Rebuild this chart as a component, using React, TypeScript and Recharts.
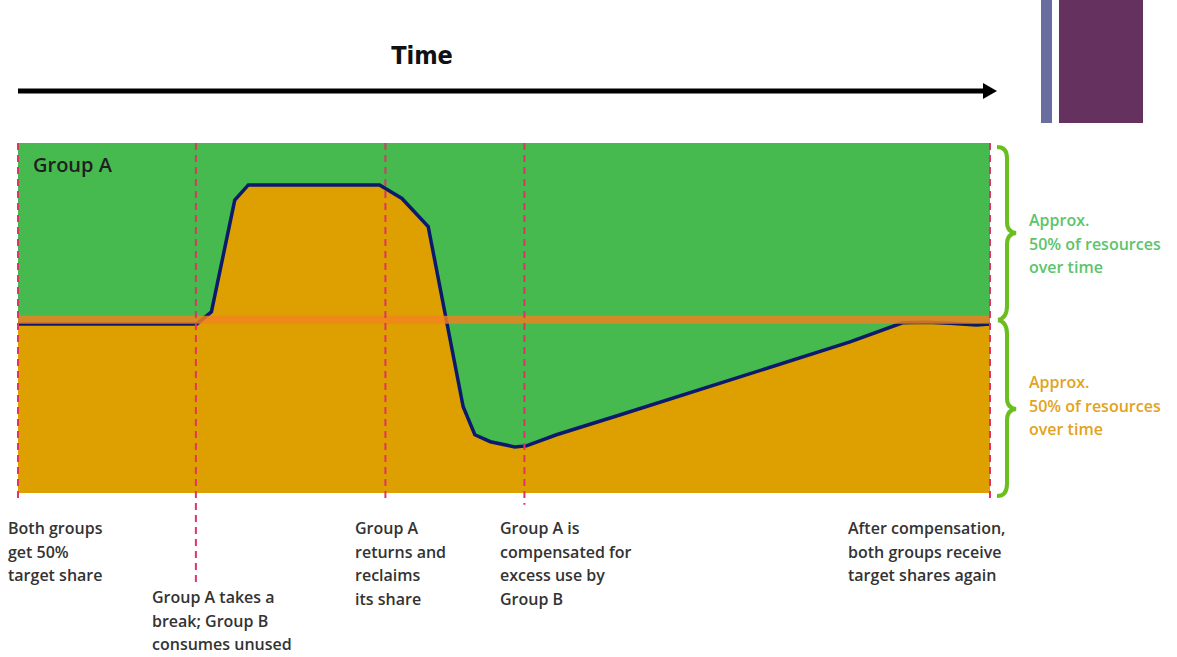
import { ComposedChart, Area, XAxis, YAxis, CartesianGrid, ReferenceLine, Customized } from 'recharts'

// time axis runs 0..100, share of resources held by Group B in %
const time = [0, 18.4, 19.9, 22.3, 23.7, 37.2, 39.5, 42.2, 45.8, 47.0, 48.6, 51.1, 52.3, 55.4, 61.9, 85.6, 91.0, 93.5, 95.9, 98.6, 100]
const groupBShare = [48.8, 48.8, 52.3, 84.5, 88.9, 88.9, 85.0, 76.9, 24.9, 16.8, 14.8, 13.3, 13.6, 16.8, 22.5, 43.6, 49.1, 49.3, 49.0, 48.5, 48.8]

const targetShare = 50
const eventTimes = [0, 18.3, 37.8, 52.1, 100]
const eventLineEnds = [-2.6, -26, -2.9, -3.4, -2]

const eventLabels = [
  ['Both groups', 'get 50%', 'target share'],
  ['Group A takes a', 'break; Group B', 'consumes unused'],
  ['Group A', 'returns and', 'reclaims', 'its share'],
  ['Group A is', 'compensated for', 'excess use by', 'Group B'],
  ['After compensation,', 'both groups receive', 'target shares again'],
]
const sideLabel = ['Approx.', '50% of resources', 'over time']

const data = time.map((t, i) => ({ t, groupB: groupBShare[i] }))

const FONT = '"Open Sans", sans-serif'
const labelPos = [
  { x: 8, y: 534 },
  { x: 152, y: 603 },
  { x: 355, y: 534 },
  { x: 500, y: 534 },
  { x: 848, y: 534 },
]

function Decorations() {
  return (
    <g>
      {/* time arrow */}
      <text x={422} y={64} textAnchor="middle" fontFamily='"DejaVu Sans Condensed", "DejaVu Sans", sans-serif'
        fontSize={25} fontWeight={600} fontStretch="condensed" fill="#111">Time</text>
      <line x1={18} y1={91} x2={986} y2={91} stroke="#000" strokeWidth={5} />
      <polygon points="983,83 997,91 983,99" fill="#000" />

      {/* slide corner bars */}
      <rect x={1041} y={0} width={11} height={123} fill="#6a6d9f" />
      <rect x={1059} y={0} width={84} height={123} fill="#65315f" />

      <text x={33} y={172} fontFamily={FONT} fontSize={20} fontWeight={600} fill="#1f1f1f">Group A</text>
      <text x={33} y={481} fontFamily={FONT} fontSize={20} fontWeight={600} fill="#1f1f1f">Group B</text>

      {eventLabels.map((lines, i) => (
        <text key={i} x={labelPos[i].x} y={labelPos[i].y} fontFamily={FONT} fontSize={16} fontWeight={600} fill="#333">
          {lines.map((l, j) => <tspan key={j} x={labelPos[i].x} dy={j === 0 ? 0 : 23.5}>{l}</tspan>)}
        </text>
      ))}

      {/* braces */}
      <path d="M997 147 Q1007 147 1007 158 L1007 222 Q1007 232 1016 233 Q1007 234 1007 244 L1007 306 Q1007 318 998 320"
        fill="none" stroke="#6abf1f" strokeWidth={4} />
      <path d="M998 320 Q1007 322 1007 334 L1007 398 Q1007 408 1016 409 Q1007 410 1007 420 L1007 484 Q1007 496 997 496"
        fill="none" stroke="#6abf1f" strokeWidth={4} />

      <text x={1029} y={226} fontFamily={FONT} fontSize={16} fontWeight={600} fill="#5cc46a">
        {sideLabel.map((l, j) => <tspan key={j} x={1029} dy={j === 0 ? 0 : 23.5}>{l}</tspan>)}
      </text>
      <text x={1029} y={388} fontFamily={FONT} fontSize={16} fontWeight={600} fill="#e2a31a">
        {sideLabel.map((l, j) => <tspan key={j} x={1029} dy={j === 0 ? 0 : 23.5}>{l}</tspan>)}
      </text>
    </g>
  )
}

export default function App() {
  return (
    <div style={{ position: 'absolute', left: 0, top: 0, width: 1177, height: 657, background: '#fff' }}>
      <ComposedChart width={1177} height={657} data={data}
        margin={{ top: 143, right: 187, bottom: 164, left: 18 }}>
        <CartesianGrid fill="#46b94f" stroke="none" horizontal={false} vertical={false} />
        <XAxis type="number" dataKey="t" domain={[0, 100]} hide />
        <YAxis type="number" domain={[0, 101]} hide />
        <Area type="linear" dataKey="groupB" stroke="#0b1a6c" strokeWidth={3.5} fill="#dea000" fillOpacity={1}
          isAnimationActive={false} />
        <ReferenceLine y={targetShare} stroke="#f0821f" strokeOpacity={0.82} strokeWidth={8} />
        {eventTimes.map((t, i) => (
          <ReferenceLine key={i} segment={[{ x: t, y: 101 }, { x: t, y: eventLineEnds[i] }]} ifOverflow="visible"
            stroke="#e2326a" strokeWidth={2} strokeDasharray="7 5" />
        ))}
        <Customized component={Decorations} />
      </ComposedChart>
    </div>
  )
}
